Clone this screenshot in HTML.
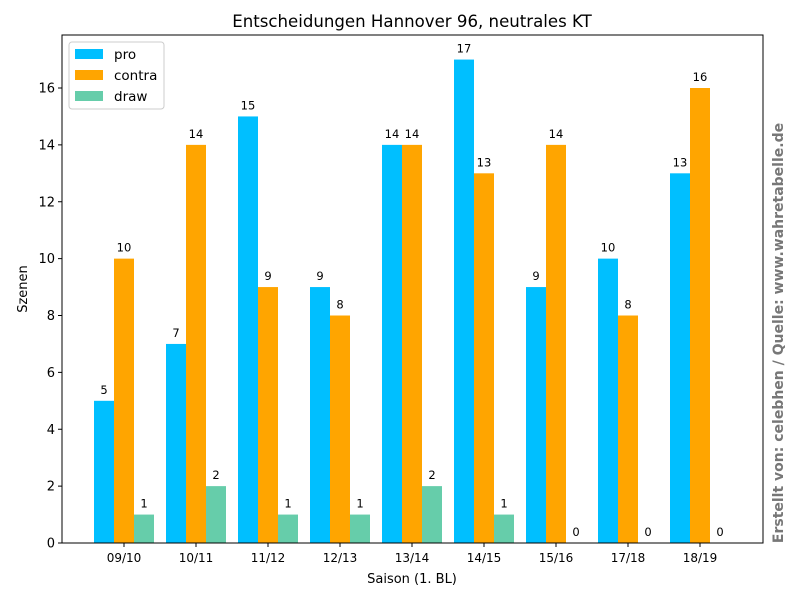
<!DOCTYPE html>
<html><head><meta charset="utf-8"><style>
body{margin:0;background:#fff;font-family:"DejaVu Sans","Liberation Sans",sans-serif;}
text{font-family:"DejaVu Sans","Liberation Sans",sans-serif;}
</style></head><body>
<svg id="c" width="800" height="600" xmlns="http://www.w3.org/2000/svg"></svg>
<script>
const categories=["09/10","10/11","11/12","12/13","13/14","14/15","15/16","17/18","18/19"];
const proValues=[5,7,15,9,14,17,9,10,13];
const contraValues=[10,14,9,8,14,13,14,8,16];
const drawValues=[1,2,1,1,2,1,0,0,0];
const yTicks=[0,2,4,6,8,10,12,14,16];
const svg=document.getElementById('c');
const NS="http://www.w3.org/2000/svg";
const L=62,R=763,T=35,B=543;
const yS=v=>B-v*(B-88)/16;
const xS=i=>124+i*72;
function el(tag,attrs,text){const e=document.createElementNS(NS,tag);for(const k in attrs)e.setAttribute(k,attrs[k]);if(text!==undefined)e.textContent=text;svg.appendChild(e);return e;}
const t=el('text',{x:412,y:27,'text-anchor':'middle','font-size':16.6,fill:'#000'},'Entscheidungen Hannover 96, neutrales KT');


const series=[{v:proValues,c:'#00bfff',o:-20,n:'pro'},{v:contraValues,c:'#ffa500',o:0,n:'contra'},{v:drawValues,c:'#66cdaa',o:20,n:'draw'}];
series.forEach(s=>{s.v.forEach((v,i)=>{
 const cx=xS(i)+s.o;
 const r=el('rect',{x:cx-10,y:yS(v),width:20,height:B-yS(v),fill:s.c});
 
 
 const lb=el('text',{x:cx,y:yS(v)-7,'text-anchor':'middle','font-size':11.5,fill:'#000'},String(v));
 
 
});});
const frame=el('rect',{x:L,y:T,width:R-L,height:B-T,fill:'none',stroke:'#000','stroke-width':1});


yTicks.forEach(v=>{
 el('line',{x1:L-4,x2:L,y1:yS(v),y2:yS(v),stroke:'#000'});
 const tl=el('text',{x:L-7,y:yS(v)+4.5,'text-anchor':'end','font-size':13,fill:'#000'},String(v));
 
 
});
categories.forEach((c,i)=>{
 el('line',{x1:xS(i),x2:xS(i),y1:B,y2:B+4,stroke:'#000'});
 const tl=el('text',{x:xS(i),y:B+19,'text-anchor':'middle','font-size':12,fill:'#000'},c);
 
 
});
const xt=el('text',{x:412,y:583,'text-anchor':'middle','font-size':13,fill:'#000'},'Saison (1. BL)');


const yt=el('text',{x:0,y:0,'text-anchor':'middle','font-size':13,fill:'#000',transform:'translate(27,289) rotate(-90)'},'Szenen');


const cr=el('text',{x:0,y:0,'text-anchor':'middle','font-size':14,'font-weight':'bold',fill:'#777',transform:'translate(783,333) rotate(-90)'},'Erstellt von: celebhen / Quelle: www.wahretabelle.de');


const lg=el('rect',{x:69,y:42,width:95,height:67,fill:'#fff',stroke:'#ccc',rx:3});


series.forEach((s,k)=>{
 const y=54+k*21;
 el('rect',{x:75,y:y-5,width:28,height:10,fill:s.c});
 const lt=el('text',{x:114,y:y+5,'font-size':13.5,fill:'#000'},s.n);
 
 
});
</script>
</body></html>
